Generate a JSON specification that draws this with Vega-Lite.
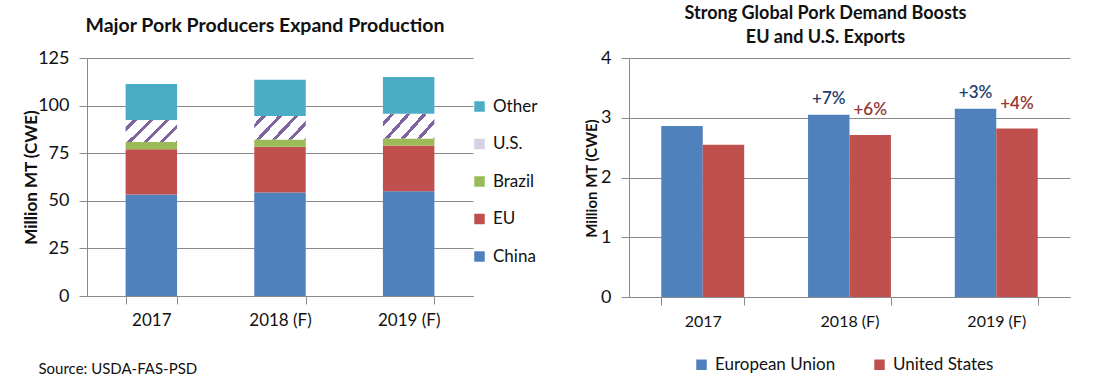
{
  "$schema": "https://vega.github.io/schema/vega-lite/v6.json",
  "background": "white",
  "padding": {"left": 21, "top": 5, "right": 5, "bottom": 5},
  "bounds": "flush",
  "spacing": 156,
  "resolve": {"scale": {"color": "independent"}, "legend": {"color": "independent"}},
  "config": {
    "font": "Lato",
    "view": {"stroke": null},
    "axis": {
      "gridColor": "#8a8a8a",
      "domainColor": "#8a8a8a",
      "tickColor": "#8a8a8a",
      "labelColor": "#111111",
      "titleColor": "#111111",
      "labelFont": "Lato",
      "titleFont": "Lato"
    },
    "legend": {"labelFont": "Lato", "labelColor": "#111111"},
    "title": {"font": "Lato", "color": "#111111"}
  },
  "datasets": {
    "production": [
      {"year": "2017", "region": "China", "k": 1, "value": 53.3},
      {"year": "2017", "region": "EU", "k": 2, "value": 23.8},
      {"year": "2017", "region": "Brazil", "k": 3, "value": 3.8},
      {"year": "2017", "region": "U.S.", "k": 4, "value": 11.6},
      {"year": "2017", "region": "Other", "k": 5, "value": 18.9},
      {"year": "2018 (F)", "region": "China", "k": 1, "value": 54.3},
      {"year": "2018 (F)", "region": "EU", "k": 2, "value": 24.1},
      {"year": "2018 (F)", "region": "Brazil", "k": 3, "value": 3.8},
      {"year": "2018 (F)", "region": "U.S.", "k": 4, "value": 12.3},
      {"year": "2018 (F)", "region": "Other", "k": 5, "value": 19.1},
      {"year": "2019 (F)", "region": "China", "k": 1, "value": 55.0},
      {"year": "2019 (F)", "region": "EU", "k": 2, "value": 24.0},
      {"year": "2019 (F)", "region": "Brazil", "k": 3, "value": 3.7},
      {"year": "2019 (F)", "region": "U.S.", "k": 4, "value": 13.0},
      {"year": "2019 (F)", "region": "Other", "k": 5, "value": 19.3}
    ],
    "exports": [
      {"year": "2017", "series": "European Union", "value": 2.86, "label": ""},
      {"year": "2017", "series": "United States", "value": 2.55, "label": ""},
      {"year": "2018 (F)", "series": "European Union", "value": 3.05, "label": "+7%"},
      {"year": "2018 (F)", "series": "United States", "value": 2.71, "label": "+6%"},
      {"year": "2019 (F)", "series": "European Union", "value": 3.15, "label": "+3%"},
      {"year": "2019 (F)", "series": "United States", "value": 2.82, "label": "+4%"}
    ]
  },
  "hconcat": [
    {
      "width": 386,
      "height": 238,
      "title": {"text": "Major Pork Producers Expand Production", "fontSize": 19.5, "fontWeight": "bold", "offset": 13, "anchor": "middle", "dx": -15},
      "data": {"name": "production"},
      "mark": {"type": "bar"},
      "encoding": {
        "x": {
          "field": "year", "type": "nominal", "sort": null,
          "scale": {"paddingInner": 0.6, "paddingOuter": 0.3},
          "axis": {
            "labelAngle": 0, "labelFontSize": 17, "labelPadding": 8, "tickBand": "extent", "tickSize": 8,
            "title": "Source: USDA-FAS-PSD", "titleFontSize": 15, "titleFontWeight": "normal",
            "titleX": -49, "titleY": 72, "titleAlign": "left", "titleBaseline": "middle", "titleAnchor": null
          }
        },
        "y": {
          "field": "value", "type": "quantitative", "stack": "zero",
          "scale": {"domain": [0, 125]},
          "axis": {
            "values": [0, 25, 50, 75, 100, 125], "labelFontSize": 18, "tickSize": 8, "labelPadding": 10,
            "title": "Million MT (CWE)", "titleFontSize": 17, "titleFontWeight": "bold",
            "titleX": -56, "titleY": 119, "titleAlign": "center", "titleBaseline": "middle", "titleAngle": -90
          }
        },
        "color": {
          "field": "region", "type": "nominal",
          "scale": {
            "domain": ["Other", "U.S.", "Brazil", "EU", "China"],
            "range": ["#4bacc6", "#d9d0e6", "#9bbb59", "#c0504d", "#4f81bd"]
          },
          "legend": {
            "title": null, "orient": "none", "legendX": 384, "legendY": 40, "direction": "vertical",
            "symbolType": "square", "symbolSize": 110, "symbolStrokeWidth": 0, "labelFontSize": 17,
            "rowPadding": 19.5, "labelOffset": 5
          },
          "condition": {
            "test": "datum.region === 'U.S.'",
            "value": {
              "gradient": "linear", "x1": 0, "y1": 0, "x2": 1.207, "y2": 0.519,
              "stops": [
                {"offset": 0, "color": "#ffffff"}, {"offset": 0.1, "color": "#ffffff"},
                {"offset": 0.1, "color": "#8064a2"}, {"offset": 0.16, "color": "#8064a2"},
                {"offset": 0.16, "color": "#ffffff"}, {"offset": 0.32, "color": "#ffffff"},
                {"offset": 0.32, "color": "#8064a2"}, {"offset": 0.38, "color": "#8064a2"},
                {"offset": 0.38, "color": "#ffffff"}, {"offset": 0.54, "color": "#ffffff"},
                {"offset": 0.54, "color": "#8064a2"}, {"offset": 0.6, "color": "#8064a2"},
                {"offset": 0.6, "color": "#ffffff"}, {"offset": 0.76, "color": "#ffffff"},
                {"offset": 0.76, "color": "#8064a2"}, {"offset": 0.82, "color": "#8064a2"},
                {"offset": 0.82, "color": "#ffffff"}, {"offset": 0.98, "color": "#ffffff"},
                {"offset": 0.98, "color": "#8064a2"}, {"offset": 1, "color": "#8064a2"}
              ]
            }
          }
        },
        "order": {"field": "k", "type": "quantitative"}
      }
    },
    {
      "width": 441,
      "height": 239,
      "title": {"text": ["Strong Global Pork Demand Boosts", "EU and U.S. Exports"], "fontSize": 18, "fontWeight": "bold", "offset": 2, "anchor": "middle", "lineHeight": 24, "dx": -24},
      "data": {"name": "exports"},
      "encoding": {
        "x": {
          "field": "year", "type": "nominal", "sort": null,
          "scale": {"paddingInner": 0.435, "paddingOuter": 0.22},
          "axis": {"labelAngle": 0, "labelFontSize": 16, "labelPadding": 8, "tickBand": "extent", "tickSize": 8, "title": null}
        },
        "xOffset": {"field": "series", "type": "nominal", "scale": {"paddingInner": 0, "paddingOuter": 0}},
        "y": {
          "field": "value", "type": "quantitative",
          "scale": {"domain": [0, 4]},
          "axis": {
            "values": [0, 1, 2, 3, 4], "labelFontSize": 18, "tickSize": 8, "labelPadding": 10,
            "title": "Million MT (CWE)", "titleFontSize": 15, "titleFontWeight": "bold",
            "titleX": -38, "titleY": 120, "titleAlign": "center", "titleBaseline": "middle", "titleAngle": -90
          }
        }
      },
      "layer": [
        {
          "mark": {"type": "bar"},
          "encoding": {
            "color": {
              "field": "series", "type": "nominal",
              "scale": {"domain": ["European Union", "United States"], "range": ["#4f81bd", "#c0504d"]},
              "legend": {
                "title": null, "orient": "none", "legendX": 64, "legendY": 298, "direction": "horizontal",
                "symbolType": "square", "symbolSize": 110, "symbolStrokeWidth": 0, "labelFontSize": 17,
                "columnPadding": 35, "labelOffset": 5
              }
            }
          }
        },
        {
          "transform": [{"filter": "datum.series === 'European Union' && datum.label !== ''"}],
          "mark": {"type": "text", "dy": -16, "fontSize": 17, "fontWeight": 600, "color": "#1f3f6e"},
          "encoding": {"text": {"field": "label"}}
        },
        {
          "transform": [{"filter": "datum.series === 'United States' && datum.label !== ''"}],
          "mark": {"type": "text", "dy": -25, "fontSize": 17, "fontWeight": 600, "color": "#953735"},
          "encoding": {"text": {"field": "label"}}
        }
      ]
    }
  ]
}
